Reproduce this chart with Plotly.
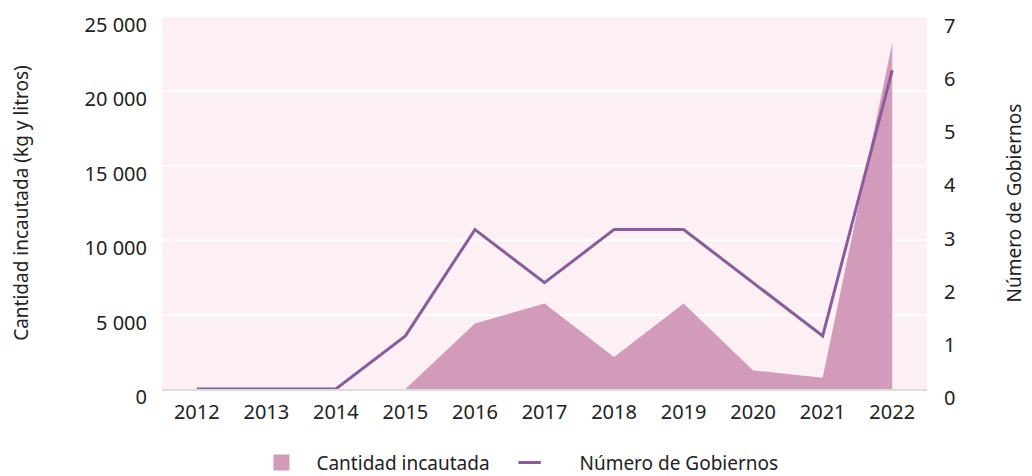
import plotly.graph_objects as go

years = ["2012", "2013", "2014", "2015", "2016", "2017", "2018", "2019", "2020", "2021", "2022"]
cantidad = [0, 0, 0, 0, 4400, 5750, 2150, 5750, 1250, 750, 23250]
gobiernos = [0, 0, 0, 1, 3, 2, 3, 3, 2, 1, 6]

left_tickvals = [0, 5000, 10000, 15000, 20000, 25000]
left_ticktext = ["0", "5 000", "10 000", "15 000", "20 000", "25 000"]
right_tickvals = [0, 1, 2, 3, 4, 5, 6, 7]

FONT = "Noto Sans, sans-serif"
AREA_COLOR = "#D39BBA"
LINE_COLOR = "#8A5C9E"

fig = go.Figure()
fig.add_trace(go.Scatter(
    x=years, y=cantidad, name="Cantidad incautada",
    mode="none", fill="tozeroy", fillcolor=AREA_COLOR,
    yaxis="y", showlegend=False,
))
fig.add_trace(go.Scatter(
    x=years, y=gobiernos, name="Número de Gobiernos",
    mode="lines", line=dict(color=LINE_COLOR, width=3),
    yaxis="y2", showlegend=False,
))
# legend swatches
fig.add_trace(go.Scatter(
    x=[None], y=[None], name="Cantidad incautada",
    mode="markers", marker=dict(symbol="square", size=18, color=AREA_COLOR),
    yaxis="y",
))
fig.add_trace(go.Scatter(
    x=[None], y=[None], name="\u00a0\u00a0\u00a0Número de Gobiernos",
    mode="markers", marker=dict(symbol="line-ew", size=37, color=LINE_COLOR,
                                line=dict(color=LINE_COLOR, width=3)),
    yaxis="y2",
))

fig.update_layout(
    width=1024, height=468,
    margin=dict(l=154, r=105, t=9, b=87, autoexpand=False),
    paper_bgcolor="white",
    plot_bgcolor="#FCF0F4",
    font=dict(family=FONT, size=19, color="#222222"),
    showlegend=True,
    legend=dict(orientation="h", x=0.1104, xanchor="left", y=-0.1466, yanchor="top",
                font=dict(size=19), tracegroupgap=0, itemwidth=60),
    xaxis=dict(type="category", range=[-0.5, 10.5], showgrid=False,
               showline=True, linecolor="#DDDDDD", linewidth=2,
               ticks="", tickfont=dict(size=20), ticklabelstandoff=4),
    yaxis=dict(range=[0, 25000], tickvals=left_tickvals, ticktext=left_ticktext,
               showgrid=True, gridcolor="white", gridwidth=2, zeroline=False,
               title=dict(text="Cantidad incautada (kg y litros)", standoff=50, font=dict(size=19)),
               ticks="", ticklabelstandoff=14, ticklabelshift=8, ticklabeloverflow="allow",
               tickfont=dict(size=20)),
    yaxis2=dict(range=[0, 7], tickvals=right_tickvals, overlaying="y", side="right",
                showgrid=False, zeroline=False,
                title=dict(text="Número de Gobiernos", standoff=52, font=dict(size=19)),
                ticks="", ticklabelstandoff=16, ticklabelshift=9, ticklabeloverflow="allow",
                tickfont=dict(size=20)),
)

fig.write_html("out.html")
